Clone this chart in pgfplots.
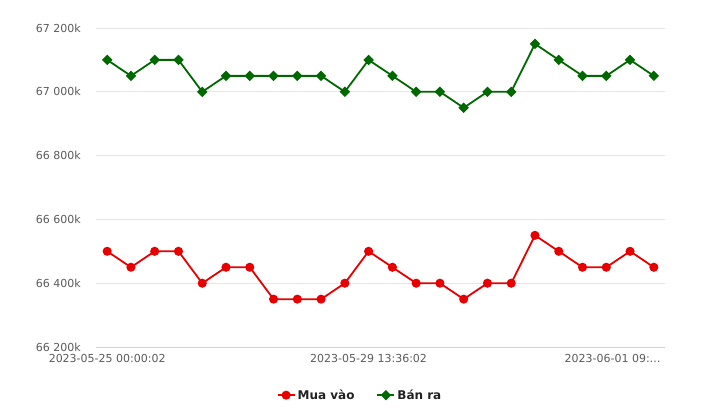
\documentclass[border=0pt]{standalone}
\usepackage{pgfplots}
\pgfplotsset{compat=1.18}
\usepackage{fontspec}
\setmainfont{DejaVu Sans}
\definecolor{buyred}{RGB}{232,0,0}
\definecolor{sellgreen}{RGB}{0,104,0}
\definecolor{gridgray}{RGB}{230,230,230}
\definecolor{axisblue}{RGB}{204,214,235}
\definecolor{ticktext}{RGB}{90,90,90}
\definecolor{legtext}{RGB}{34,34,34}
\begin{document}
\begin{tikzpicture}[x=1pt,y=1pt]
\useasboundingbox (-96pt,-71pt) rectangle (624pt,347pt);
\begin{axis}[
  at={(0,0)}, anchor=south west, scale only axis,
  width=569pt, height=319pt,
  xmin=-0.47, xmax=23.47, ymin=66200, ymax=67200,
  scaled y ticks=false,
  ytick={66200,66400,66600,66800,67000,67200},
  yticklabels={66 200k,66 400k,66 600k,66 800k,67 000k,67 200k},
  xtick={0,11,21.27},
  xticklabels={2023-05-25 00:00:02,2023-05-29 13:36:02,2023-06-01 09:…},
  ymajorgrids, grid style={gridgray, line width=0.8pt},
  axis x line*=bottom, axis y line*=left,
  y axis line style={draw=none},
  x axis line style={axisblue, line width=0.8pt, -},
  major tick length=0pt,
  tick label style={font=\fontsize{11}{13}\selectfont, text=ticktext},
  yticklabel style={inner sep=0pt, anchor=east, xshift=-15pt},
  xticklabel style={inner sep=0pt, anchor=north, yshift=-7pt},
  clip=false,
  legend style={at={(0.464,-0.151)}, anchor=center, draw=none, fill=none,
    legend columns=2, font=\bfseries\fontsize{12}{14}\selectfont, text=legtext,
    /tikz/every even column/.append style={column sep=20pt}},
]
\addplot[buyred, line width=1.8pt, mark=*, mark size=3.6pt] coordinates {
(0,66500) (1,66450) (2,66500) (3,66500) (4,66400) (5,66450) (6,66450) (7,66350)
(8,66350) (9,66350) (10,66400) (11,66500) (12,66450) (13,66400) (14,66400) (15,66350)
(16,66400) (17,66400) (18,66550) (19,66500) (20,66450) (21,66450) (22,66500) (23,66450)};
\addlegendentry{Mua vào}
\addplot[sellgreen, line width=1.8pt, mark=square*, mark size=2.8pt,
  mark options={rotate=45}] coordinates {
(0,67100) (1,67050) (2,67100) (3,67100) (4,67000) (5,67050) (6,67050) (7,67050)
(8,67050) (9,67050) (10,67000) (11,67100) (12,67050) (13,67000) (14,67000) (15,66950)
(16,67000) (17,67000) (18,67150) (19,67100) (20,67050) (21,67050) (22,67100) (23,67050)};
\addlegendentry{Bán ra}
\end{axis}
\end{tikzpicture}
\end{document}
